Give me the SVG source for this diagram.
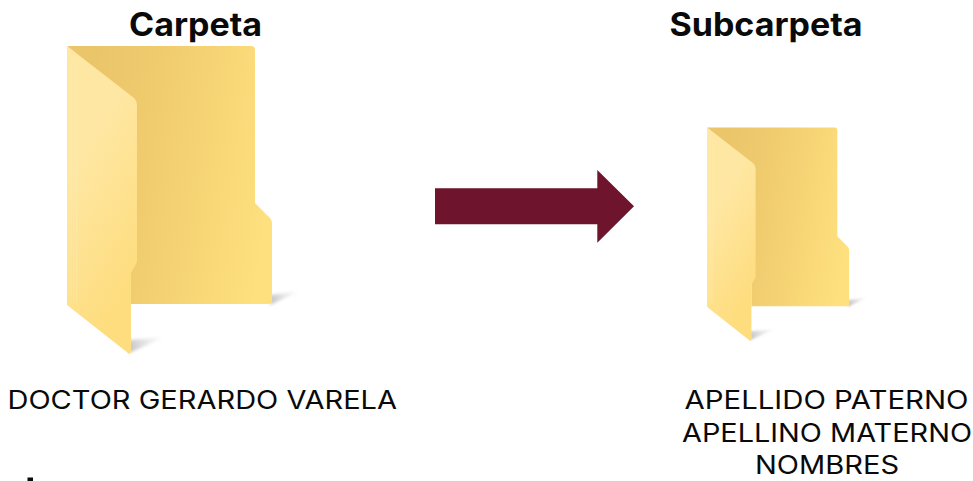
<svg xmlns="http://www.w3.org/2000/svg" width="973" height="481" viewBox="0 0 973 481">
<style>
text{font-family:"Inter","Liberation Sans",sans-serif;fill:#0a0a0a}
.t{font-size:32px;font-weight:700}
.l{font-size:25.500px;font-weight:400}
</style>
<defs>
<linearGradient id="back" gradientUnits="userSpaceOnUse" x1="80" y1="160" x2="272" y2="190">
<stop offset="0" stop-color="#ebc569"/><stop offset="0.35" stop-color="#f0cc6f"/><stop offset="0.7" stop-color="#f8d777"/><stop offset="1" stop-color="#fee07f"/>
</linearGradient>
<linearGradient id="front" gradientUnits="userSpaceOnUse" x1="75" y1="170" x2="165" y2="225">
<stop offset="0" stop-color="#fee7a2"/><stop offset="1" stop-color="#fedd7f"/>
</linearGradient>
<linearGradient id="sh1" gradientUnits="userSpaceOnUse" x1="272" y1="302" x2="300" y2="292">
<stop offset="0" stop-color="#8f8f8f" stop-opacity=".5"/><stop offset="1" stop-color="#bbb" stop-opacity="0"/>
</linearGradient>
<linearGradient id="sh2" gradientUnits="userSpaceOnUse" x1="131" y1="350" x2="165" y2="337">
<stop offset="0" stop-color="#8f8f8f" stop-opacity=".5"/><stop offset="1" stop-color="#bbb" stop-opacity="0"/>
</linearGradient>
<filter id="soft" x="-30%" y="-30%" width="160%" height="160%"><feGaussianBlur stdDeviation="1.500"/></filter>
<g id="folder">
<path d="M270 305L300 291L270 295Z" fill="url(#sh1)" filter="url(#soft)"/>
<path d="M129 353L165 337L129 340Z" fill="url(#sh2)" filter="url(#soft)"/>
<path d="M67 46H251Q255 46 255 50V203L270 218Q272 220 272 223V300Q272 304 268 304H131V100L67 46Z" fill="url(#back)"/>
<path d="M67 46L134 98Q137 101 137 106V262L131 273V352Q130 355 128 353L67 305Z" fill="url(#front)"/>
<path d="M71 58V298M74 60V301M76.500 62V303" fill="none" stroke="#fff3c4" stroke-opacity=".35" stroke-width=".8"/>
</g>
</defs>
<g id="folder-carpeta"><use href="#folder"/></g>
<g id="folder-subcarpeta"><use href="#folder" transform="translate(660.700 95.700) scale(.6926)"/></g>
<g id="connectors"><path d="M435 188.300H597.300V170L634 206.300L597.300 242.700V224.300H435Z" fill="#6e152d"/></g>
<g id="label-carpeta"><text class="t" x="129" y="35.500" textLength="133" lengthAdjust="spacingAndGlyphs">Carpeta</text></g>
<g id="label-subcarpeta"><text class="t" x="669.500" y="35.500" textLength="193" lengthAdjust="spacingAndGlyphs">Subcarpeta</text></g>
<g id="label-doctor"><text class="l" x="7.500" y="409" textLength="389.500" lengthAdjust="spacingAndGlyphs">DOCTOR GERARDO VARELA</text></g>
<g id="label-sub"><text class="l" x="684.500" y="409" textLength="284" lengthAdjust="spacingAndGlyphs">APELLIDO PATERNO</text>
<text class="l" x="682" y="441.500" textLength="290" lengthAdjust="spacingAndGlyphs">APELLINO MATERNO</text>
<text class="l" x="755" y="474" textLength="144" lengthAdjust="spacingAndGlyphs">NOMBRES</text></g>
<rect x="27.500" y="477.500" width="5.500" height="3.500" fill="#0a0a0a"/>
</svg>
